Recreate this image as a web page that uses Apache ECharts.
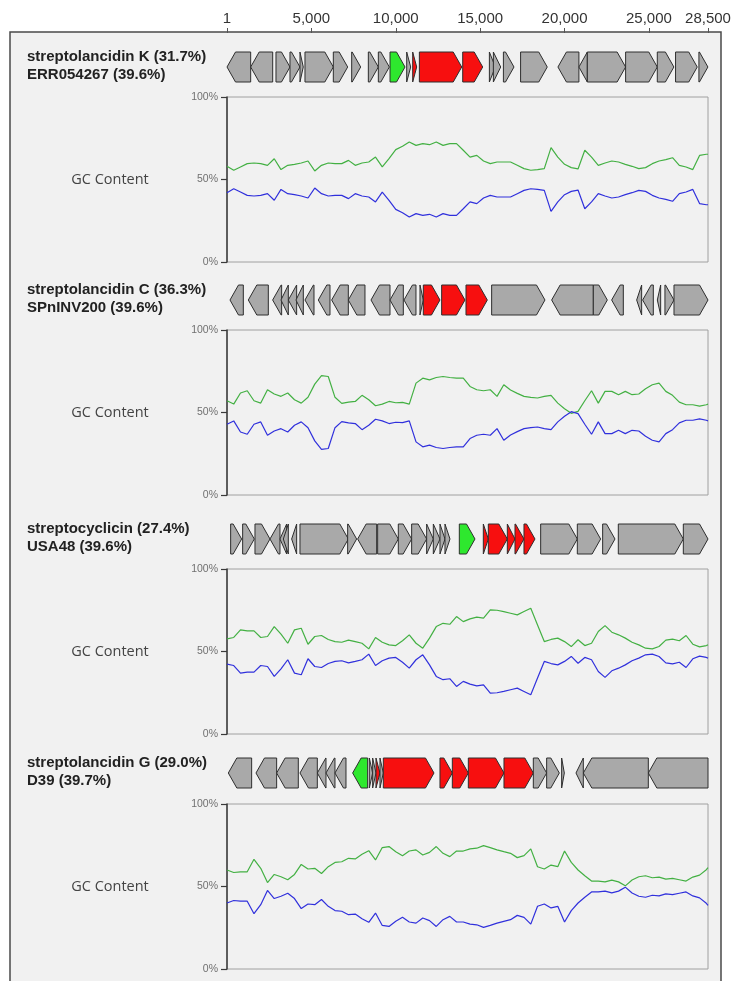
<!DOCTYPE html>
<html>
<head>
<meta charset="utf-8">
<script src="https://cdn.jsdelivr.net/npm/echarts@6/dist/echarts.min.js"></script>
<style>
html, body { margin: 0; padding: 0; background: #ffffff; }
#chart { width: 734px; height: 981px; }
</style>
</head>
<body>
<div id="chart"></div>
<script>
// Locus length and ruler ticks (bp)
const seqLength = 28500;
const rulerTicks = [1, 5000, 10000, 15000, 20000, 25000, 28500];

// Cluster / genome captions
const clusterNames = ['streptolancidin K (31.7%)', 'streptolancidin C (36.3%)', 'streptocyclicin (27.4%)', 'streptolancidin G (29.0%)'];
const genomeNames = ['ERR054267 (39.6%)', 'SPnINV200 (39.6%)', 'USA48 (39.6%)', 'D39 (39.7%)'];

// Genes: [start, end, strand, kind]  kind 0 = other, 1 = cluster core, 2 = precursor
const genesK = [
  [1, 1404, -1, 0], [1404, 2708, -1, 0], [2903, 3732, 1, 0], [3732, 4325, 1, 0], [4325, 4520, 1, 0],
  [4621, 6300, 1, 0], [6300, 7151, 1, 0], [7388, 7921, 1, 0], [8375, 8968, 1, 0], [8968, 9619, 1, 0],
  [9660, 10549, 1, 2], [10648, 10885, 1, 0], [11003, 11240, 1, 1], [11399, 13908, 1, 1], [13967, 15152, 1, 1],
  [15547, 15900, 1, 0], [15783, 16218, 1, 0], [16377, 17005, 1, 0], [17396, 18976, 1, 0], [19608, 20852, -1, 0],
  [20852, 21350, -1, 0], [21350, 23619, 1, 0], [23619, 25495, 1, 0], [25495, 26479, 1, 0], [26578, 27863, 1, 0],
  [27962, 28495, 1, 0]
];
const genesC = [
  [178, 968, -1, 0], [1264, 2449, -1, 0], [2706, 3239, -1, 0], [3199, 3634, -1, 0], [3634, 4128, -1, 0],
  [4088, 4523, -1, 0], [4621, 5155, -1, 0], [5411, 6103, -1, 0], [6201, 7189, -1, 0], [7189, 8176, -1, 0],
  [8532, 9658, -1, 0], [9658, 10448, -1, 0], [10487, 11198, -1, 0], [11435, 11633, 1, 0], [11633, 12620, 1, 1],
  [12719, 14101, 1, 1], [14161, 15425, 1, 1], [15681, 18841, 1, 0], [19236, 21705, -1, 0], [21705, 22535, 1, 0],
  [22791, 23483, -1, 0], [24273, 24569, -1, 0], [24628, 25260, -1, 0], [25497, 25695, -1, 0], [25949, 26485, 1, 0],
  [26485, 28500, 1, 0]
];
const genesCyc = [
  [217, 869, 1, 0], [928, 1619, 1, 0], [1659, 2548, 1, 0], [2548, 3140, -1, 0], [3140, 3535, -1, 0],
  [3338, 3634, -1, 0], [3831, 4128, -1, 0], [4325, 7189, 1, 0], [7149, 7683, 1, 0], [7742, 8868, -1, 0],
  [8927, 10151, 1, 0], [10151, 10941, 1, 0], [10941, 11830, 1, 0], [11830, 12225, 1, 0], [12225, 12620, 1, 0],
  [12620, 12916, 1, 0], [12916, 13213, 1, 0], [13766, 14694, 1, 2], [15188, 15484, 1, 1], [15484, 16610, 1, 1],
  [16610, 17064, 1, 1], [17064, 17597, 1, 1], [17597, 18249, 1, 1], [18585, 20757, 1, 0], [20757, 22139, 1, 0],
  [22258, 22989, 1, 0], [23186, 27038, 1, 0], [27038, 28500, 1, 0]
];
const genesG = [
  [79, 1461, -1, 0], [1718, 2943, -1, 0], [2943, 4226, -1, 0], [4325, 5352, -1, 0], [5352, 5866, -1, 0],
  [5866, 6399, -1, 0], [6399, 7051, -1, 0], [7446, 8334, -1, 2], [8433, 8631, 1, 0], [8631, 8828, 1, 0],
  [8828, 9065, 1, 1], [9065, 9263, 1, 0], [9263, 12265, 1, 1], [12620, 13351, 1, 1], [13351, 14299, 1, 1],
  [14299, 16412, 1, 1], [16412, 18150, 1, 1], [18150, 18940, 1, 0], [18940, 19691, 1, 0], [19829, 19987, 1, 0],
  [20678, 21113, -1, 0], [21113, 24964, -1, 0], [24964, 28500, -1, 0]
];

// Sliding-window positions (bp) for the GC / AT content traces
const windowPos = [1, 400, 800, 1200, 1600, 2000, 2400, 2800, 3200, 3600, 4000, 4400, 4800, 5200, 5600, 6000,
  6400, 6800, 7200, 7600, 8000, 8400, 8800, 9200, 9600, 10000, 10400, 10800, 11200, 11600, 12000, 12400, 12800,
  13200, 13600, 14000, 14400, 14800, 15200, 15600, 16000, 16400, 16800, 17200, 17600, 18000, 18400, 18800, 19200,
  19600, 20000, 20400, 20800, 21200, 21600, 22000, 22400, 22800, 23200, 23600, 24000, 24400, 24800, 25200, 25600,
  26000, 26400, 26800, 27200, 27600, 28000, 28400, 28500];

// GC content (%) per window
const gcK = [58.0, 55.6, 57.6, 59.6, 60.0, 59.6, 58.6, 62.6, 56.0, 58.6, 59.2, 60.0, 61.2, 55.2, 58.6, 60.0, 59.6, 59.6, 61.6, 58.6, 60.0, 60.6, 63.6, 57.6, 62.6, 68.1, 70.1, 72.7, 70.7, 71.7, 71.1, 72.7, 70.7, 71.7, 71.7, 67.7, 63.6, 64.6, 61.2, 59.6, 60.6, 60.6, 60.6, 58.6, 56.6, 55.6, 56.0, 56.6, 69.3, 63.6, 59.2, 57.2, 56.4, 67.7, 63.6, 58.6, 60.0, 61.2, 60.6, 59.2, 58.0, 56.6, 57.2, 59.6, 61.2, 62.0, 63.2, 58.6, 57.6, 56.0, 64.6, 65.3, 65.3];
const gcC = [57.1, 55.1, 61.8, 63.2, 57.1, 55.7, 63.8, 61.2, 59.8, 61.8, 57.7, 55.7, 59.2, 67.2, 72.4, 71.8, 59.2, 55.5, 56.3, 56.7, 60.4, 57.7, 54.1, 55.1, 56.7, 55.9, 56.1, 55.1, 67.8, 70.8, 69.8, 71.2, 71.8, 71.2, 70.8, 70.8, 65.8, 63.8, 63.2, 63.8, 59.8, 66.8, 63.6, 61.6, 59.8, 59.2, 58.8, 59.8, 60.4, 55.7, 52.3, 49.5, 50.7, 57.1, 63.2, 55.7, 62.8, 62.8, 60.8, 62.8, 60.8, 61.2, 64.4, 66.8, 67.8, 62.8, 60.4, 56.3, 54.7, 54.7, 53.9, 54.7, 55.1];
const gcCyc = [57.7, 58.5, 63.1, 62.5, 62.5, 58.5, 59.1, 65.1, 60.5, 55.0, 63.1, 64.1, 54.4, 59.1, 59.7, 57.3, 56.0, 55.6, 56.9, 56.0, 55.0, 51.6, 58.5, 55.6, 54.0, 53.6, 56.5, 60.1, 55.0, 52.0, 58.1, 65.1, 67.1, 66.5, 71.2, 68.1, 69.8, 70.8, 70.2, 75.2, 75.0, 74.2, 73.2, 72.2, 74.2, 76.2, 66.1, 56.0, 57.3, 58.1, 56.0, 53.0, 57.1, 53.6, 55.0, 62.1, 65.7, 61.7, 60.1, 58.1, 55.6, 54.0, 52.0, 51.6, 53.0, 56.9, 57.5, 56.5, 59.7, 54.4, 52.8, 53.6, 54.0];
const gcG = [60.0, 58.5, 58.9, 58.9, 66.5, 61.0, 52.4, 57.3, 55.9, 54.1, 57.3, 63.4, 60.6, 61.0, 57.9, 62.0, 64.6, 65.0, 67.1, 66.7, 69.5, 71.7, 66.1, 73.6, 74.2, 71.1, 68.7, 71.5, 72.2, 69.1, 70.7, 74.2, 70.1, 68.1, 71.5, 71.5, 72.8, 73.2, 74.8, 73.6, 72.2, 71.1, 70.1, 67.5, 68.7, 72.8, 62.0, 60.6, 63.0, 62.0, 71.5, 64.6, 60.0, 56.5, 53.3, 53.3, 52.8, 53.9, 52.8, 50.4, 53.9, 55.9, 56.5, 55.3, 55.7, 54.5, 54.9, 54.1, 53.3, 55.7, 56.9, 60.2, 61.4];

// AT content (%) per window
const atK = [42.0, 44.4, 42.4, 40.4, 40.0, 40.4, 41.4, 37.4, 44.0, 41.4, 40.8, 40.0, 38.8, 44.8, 41.4, 40.0, 40.4, 40.4, 38.4, 41.4, 40.0, 39.4, 36.4, 42.4, 37.4, 31.9, 29.9, 27.3, 29.3, 28.3, 28.9, 27.3, 29.3, 28.3, 28.3, 32.3, 36.4, 35.4, 38.8, 40.4, 39.4, 39.4, 39.4, 41.4, 43.4, 44.4, 44.0, 43.4, 30.7, 36.4, 40.8, 42.8, 43.6, 32.3, 36.4, 41.4, 40.0, 38.8, 39.4, 40.8, 42.0, 43.4, 42.8, 40.4, 38.8, 38.0, 36.8, 41.4, 42.4, 44.0, 35.4, 34.7, 34.7];
const atC = [42.9, 44.9, 38.2, 36.8, 42.9, 44.3, 36.2, 38.8, 40.2, 38.2, 42.3, 44.3, 40.8, 32.8, 27.6, 28.2, 40.8, 44.5, 43.7, 43.3, 39.6, 42.3, 45.9, 44.9, 43.3, 44.1, 43.9, 44.9, 32.2, 29.2, 30.2, 28.8, 28.2, 28.8, 29.2, 29.2, 34.2, 36.2, 36.8, 36.2, 40.2, 33.2, 36.4, 38.4, 40.2, 40.8, 41.2, 40.2, 39.6, 44.3, 47.7, 50.5, 49.3, 42.9, 36.8, 44.3, 37.2, 37.2, 39.2, 37.2, 39.2, 38.8, 35.6, 33.2, 32.2, 37.2, 39.6, 43.7, 45.3, 45.3, 46.1, 45.3, 44.9];
const atCyc = [42.3, 41.5, 36.9, 37.5, 37.5, 41.5, 40.9, 34.9, 39.5, 45.0, 36.9, 35.9, 45.6, 40.9, 40.3, 42.7, 44.0, 44.4, 43.1, 44.0, 45.0, 48.4, 41.5, 44.4, 46.0, 46.4, 43.5, 39.9, 45.0, 48.0, 41.9, 34.9, 32.9, 33.5, 28.8, 31.9, 30.2, 29.2, 29.8, 24.8, 25.0, 25.8, 26.8, 27.8, 25.8, 23.8, 33.9, 44.0, 42.7, 41.9, 44.0, 47.0, 42.9, 46.4, 45.0, 37.9, 34.3, 38.3, 39.9, 41.9, 44.4, 46.0, 48.0, 48.4, 47.0, 43.1, 42.5, 43.5, 40.3, 45.6, 47.2, 46.4, 46.0];
const atG = [40.0, 41.5, 41.1, 41.1, 33.5, 39.0, 47.6, 42.7, 44.1, 45.9, 42.7, 36.6, 39.4, 39.0, 42.1, 38.0, 35.4, 35.0, 32.9, 33.3, 30.5, 28.3, 33.9, 26.4, 25.8, 28.9, 31.3, 28.5, 27.8, 30.9, 29.3, 25.8, 29.9, 31.9, 28.5, 28.5, 27.2, 26.8, 25.2, 26.4, 27.8, 28.9, 29.9, 32.5, 31.3, 27.2, 38.0, 39.4, 37.0, 38.0, 28.5, 35.4, 40.0, 43.5, 46.7, 46.7, 47.2, 46.1, 47.2, 49.6, 46.1, 44.1, 43.5, 44.7, 44.3, 45.5, 45.1, 45.9, 46.7, 44.3, 43.1, 39.8, 38.6];

const geneSets = [genesK, genesC, genesCyc, genesG];
const gcSets = [gcK, gcC, gcCyc, gcG];
const atSets = [atK, atC, atCyc, atG];

// ---- layout ----
const PLOT_LEFT = 227, PLOT_WIDTH = 481;
const trackMid = [67, 300, 539, 773];
const trackHalf = 15;
const gcTop = [97, 330, 569, 804];
const gcHeight = 165;
const geneFill = ['#a9a9a9', '#f70f0f', '#2ee82e'];
const TITLE_FONT = 'bold 15px "Liberation Sans", Arial, sans-serif';

function renderGene(params, api) {
  const a = api.coord([api.value(0), 0]);
  const b = api.coord([api.value(1), 1]);
  const strand = api.value(2);
  const kind = api.value(3);
  const x0 = a[0], x1 = b[0];
  const yBot = a[1], yTop = b[1], yMid = (a[1] + b[1]) / 2;
  const head = Math.min(8.5, x1 - x0);
  const pts = strand > 0
    ? [[x0, yTop], [x1 - head, yTop], [x1, yMid], [x1 - head, yBot], [x0, yBot]]
    : [[x1, yTop], [x0 + head, yTop], [x0, yMid], [x0 + head, yBot], [x1, yBot]];
  return {
    type: 'polygon',
    shape: { points: pts },
    style: { fill: geneFill[kind], stroke: '#2e2e2e', lineWidth: 1 }
  };
}

const grid = [{ left: PLOT_LEFT, width: PLOT_WIDTH, top: 32, height: 1 }];
const xAxis = [{
  gridIndex: 0, type: 'value', min: 1, max: seqLength, position: 'top',
  axisLine: { show: false },
  axisTick: { show: true, customValues: rulerTicks, length: 5, lineStyle: { color: '#555' } },
  axisLabel: {
    customValues: rulerTicks, margin: 6, fontSize: 15, color: '#333',
    fontFamily: '"Liberation Sans", Arial, sans-serif',
    formatter: v => Number(v).toLocaleString('en-US')
  },
  splitLine: { show: false }
}];
const yAxis = [{ gridIndex: 0, type: 'value', show: false }];
const series = [];
const graphic = [{
  type: 'rect', z: -10,
  shape: { x: 10, y: 32, width: 711, height: 1000 },
  style: { fill: '#f1f1f1', stroke: '#4a4a4a', lineWidth: 1.5 }
}];

for (let p = 0; p < 4; p++) {
  const gGene = grid.length;
  grid.push({ left: PLOT_LEFT, width: PLOT_WIDTH, top: trackMid[p] - trackHalf, height: trackHalf * 2 });
  xAxis.push({ gridIndex: gGene, type: 'value', min: 1, max: seqLength, show: false });
  yAxis.push({ gridIndex: gGene, type: 'value', min: 0, max: 1, show: false });
  series.push({
    type: 'custom', xAxisIndex: gGene, yAxisIndex: gGene,
    renderItem: renderGene, encode: { x: [0, 1] },
    data: geneSets[p], silent: true
  });

  const gGc = grid.length;
  grid.push({
    left: PLOT_LEFT, width: PLOT_WIDTH, top: gcTop[p], height: gcHeight,
    show: true, borderColor: '#a0a0a0', borderWidth: 1, backgroundColor: 'transparent'
  });
  xAxis.push({ gridIndex: gGc, type: 'value', min: 1, max: seqLength, show: false });
  yAxis.push({
    gridIndex: gGc, type: 'value', min: 0, max: 100, interval: 50,
    axisLine: { show: true, lineStyle: { color: '#3a3a3a', width: 1.5 } },
    axisTick: { show: true, length: 6, lineStyle: { color: '#3a3a3a', width: 1.2 } },
    axisLabel: { formatter: '{value}%', fontSize: 10.5, color: '#707070', margin: 9,
      fontFamily: '"Liberation Sans", Arial, sans-serif' },
    splitLine: { show: false }
  });
  series.push({
    type: 'line', xAxisIndex: gGc, yAxisIndex: gGc, symbol: 'none', silent: true,
    lineStyle: { color: '#43b043', width: 1.2 },
    data: windowPos.map((x, i) => [x, gcSets[p][i]])
  });
  series.push({
    type: 'line', xAxisIndex: gGc, yAxisIndex: gGc, symbol: 'none', silent: true,
    lineStyle: { color: '#3030dc', width: 1.2 },
    data: windowPos.map((x, i) => [x, atSets[p][i]])
  });

  graphic.push({
    type: 'text', left: 27, top: trackMid[p] - 19,
    style: { text: clusterNames[p] + '\n' + genomeNames[p], font: TITLE_FONT, fill: '#222', lineHeight: 18 }
  });
  graphic.push({
    type: 'text', x: 110, y: gcTop[p] + gcHeight / 2,
    style: { text: 'GC Content', font: '14.5px "Open Sans", sans-serif', fill: '#444',
      textAlign: 'center', textVerticalAlign: 'middle' }
  });
}

const chart = echarts.init(document.getElementById('chart'));
chart.setOption({
  animation: false,
  backgroundColor: '#ffffff',
  grid, xAxis, yAxis, series, graphic
});
</script>
</body>
</html>
